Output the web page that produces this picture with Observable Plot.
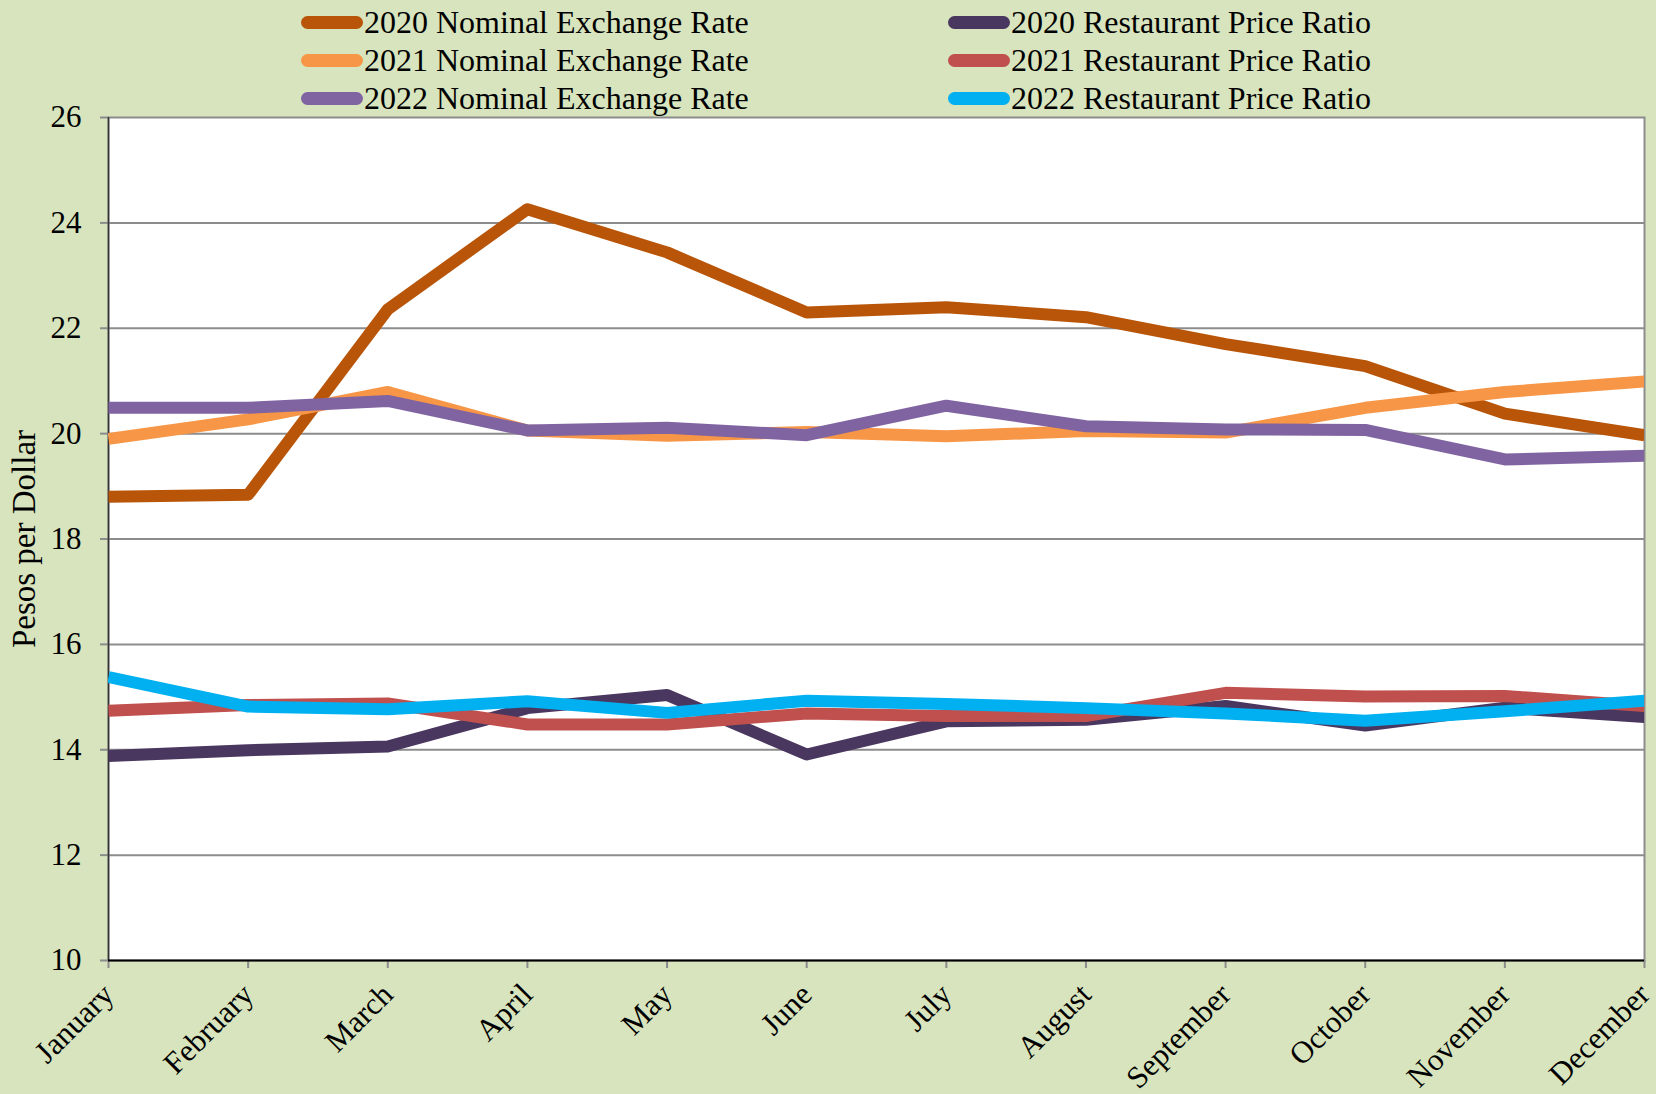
<!DOCTYPE html>
<html>
<head>
<meta charset="utf-8">
<script src="https://cdn.jsdelivr.net/npm/d3@7"></script>
<script src="https://cdn.jsdelivr.net/npm/@observablehq/plot@0.6"></script>
<style>
  html, body { margin: 0; padding: 0; background: #D7E4BD; }
  body { width: 1656px; height: 1094px; overflow: hidden; font-family: "Liberation Serif", "Times New Roman", serif; }
  #legend { position: relative; width: 1656px; height: 110px; }
  .item { position: absolute; display: flex; align-items: center; height: 36px; font-size: 32px; color: #000; white-space: nowrap; }
  .sw { width: 62px; height: 13px; border-radius: 7px; margin-right: 1px; }
  #chart svg { display: block; overflow: visible; }
</style>
</head>
<body>
<div id="legend"></div>
<div id="chart"></div>
<script>
const months = ["January","February","March","April","May","June","July","August","September","October","November","December"];
const nominal2020 = [18.80, 18.84, 22.36, 24.26, 23.44, 22.30, 22.40, 22.21, 21.70, 21.28, 20.38, 19.97];
const restaurant2020 = [13.88, 13.99, 14.06, 14.79, 15.04, 13.91, 14.54, 14.57, 14.83, 14.46, 14.80, 14.62];
const nominal2021 = [19.90, 20.27, 20.79, 20.06, 19.96, 20.03, 19.95, 20.05, 20.02, 20.49, 20.79, 20.99];
const restaurant2021 = [14.74, 14.85, 14.88, 14.48, 14.48, 14.69, 14.64, 14.64, 15.08, 15.01, 15.02, 14.83];
const nominal2022 = [20.49, 20.49, 20.62, 20.06, 20.11, 19.97, 20.53, 20.14, 20.08, 20.07, 19.51, 19.58];
const restaurant2022 = [15.38, 14.82, 14.77, 14.92, 14.70, 14.93, 14.87, 14.79, 14.69, 14.55, 14.73, 14.93];

const seriesNames = ["2020 Nominal Exchange Rate","2020 Restaurant Price Ratio","2021 Nominal Exchange Rate","2021 Restaurant Price Ratio","2022 Nominal Exchange Rate","2022 Restaurant Price Ratio"];
const seriesValues = [nominal2020, restaurant2020, nominal2021, restaurant2021, nominal2022, restaurant2022];
const seriesColors = ["#B85508","#4A375F","#F79646","#C0504D","#8064A2","#00B0F0"];
const yTicks = [10,12,14,16,18,20,22,24,26];

const data = [];
seriesNames.forEach((name, i) => {
  seriesValues[i].forEach((v, j) => data.push({series: name, month: months[j], value: v}));
});

// legend (row-wise, two columns)
const legend = document.getElementById("legend");
seriesNames.forEach((name, i) => {
  const col = i % 2, row = Math.floor(i / 2);
  const el = document.createElement("div");
  el.className = "item";
  el.style.left = (col === 0 ? 301 : 948) + "px";
  el.style.top = (4 + row * 38) + "px";
  const sw = document.createElement("div");
  sw.className = "sw";
  sw.style.background = seriesColors[i];
  el.appendChild(sw);
  el.appendChild(document.createTextNode(name));
  legend.appendChild(el);
});

const font = '"Liberation Serif", "Times New Roman", serif';
const chart = Plot.plot({
  width: 1656,
  height: 984,
  marginTop: 7,
  marginBottom: 134,
  marginLeft: 108,
  marginRight: 12,
  style: {background: "transparent", fontFamily: font, fontSize: "31px", color: "#000", overflow: "visible"},
  x: {type: "point", domain: months, padding: 0, round: false},
  y: {domain: [10, 26]},
  color: {domain: seriesNames, range: seriesColors},
  marks: [
    Plot.frame({fill: "white", stroke: "#8c8c8c", strokeWidth: 2}),
    Plot.gridY(yTicks.slice(1, -1), {stroke: "#8c8c8c", strokeOpacity: 1, strokeWidth: 2}),
    Plot.axisY({ticks: yTicks, tickSize: 8, tickPadding: 19, stroke: "#8c8c8c", strokeWidth: 2, fontSize: 31, label: null, tickFormat: d => d}),
    Plot.axisX({tickSize: 8, stroke: "#8c8c8c", strokeWidth: 2, label: null, tickFormat: () => ""}),
    Plot.text(months, {x: d => d, frameAnchor: "bottom", textAnchor: "end", lineAnchor: "middle", rotate: -45, dx: 0, dy: 29, fontSize: 31, fill: "#000"}),
    Plot.ruleX([months[0]], {stroke: "#333", strokeWidth: 1.5}),
    Plot.ruleY([10], {stroke: "#000", strokeWidth: 2}),
    Plot.line(data, {x: "month", y: "value", z: "series", stroke: "series", strokeWidth: 12, strokeLinejoin: "round", strokeLinecap: "butt", clip: true}),
    Plot.text(["Pesos per Dollar"], {frameAnchor: "left", textAnchor: "middle", lineAnchor: "middle", dx: -84, dy: 0, rotate: -90, fontSize: 33, fill: "#000"})
  ]
});
document.getElementById("chart").appendChild(chart);
</script>
</body>
</html>
